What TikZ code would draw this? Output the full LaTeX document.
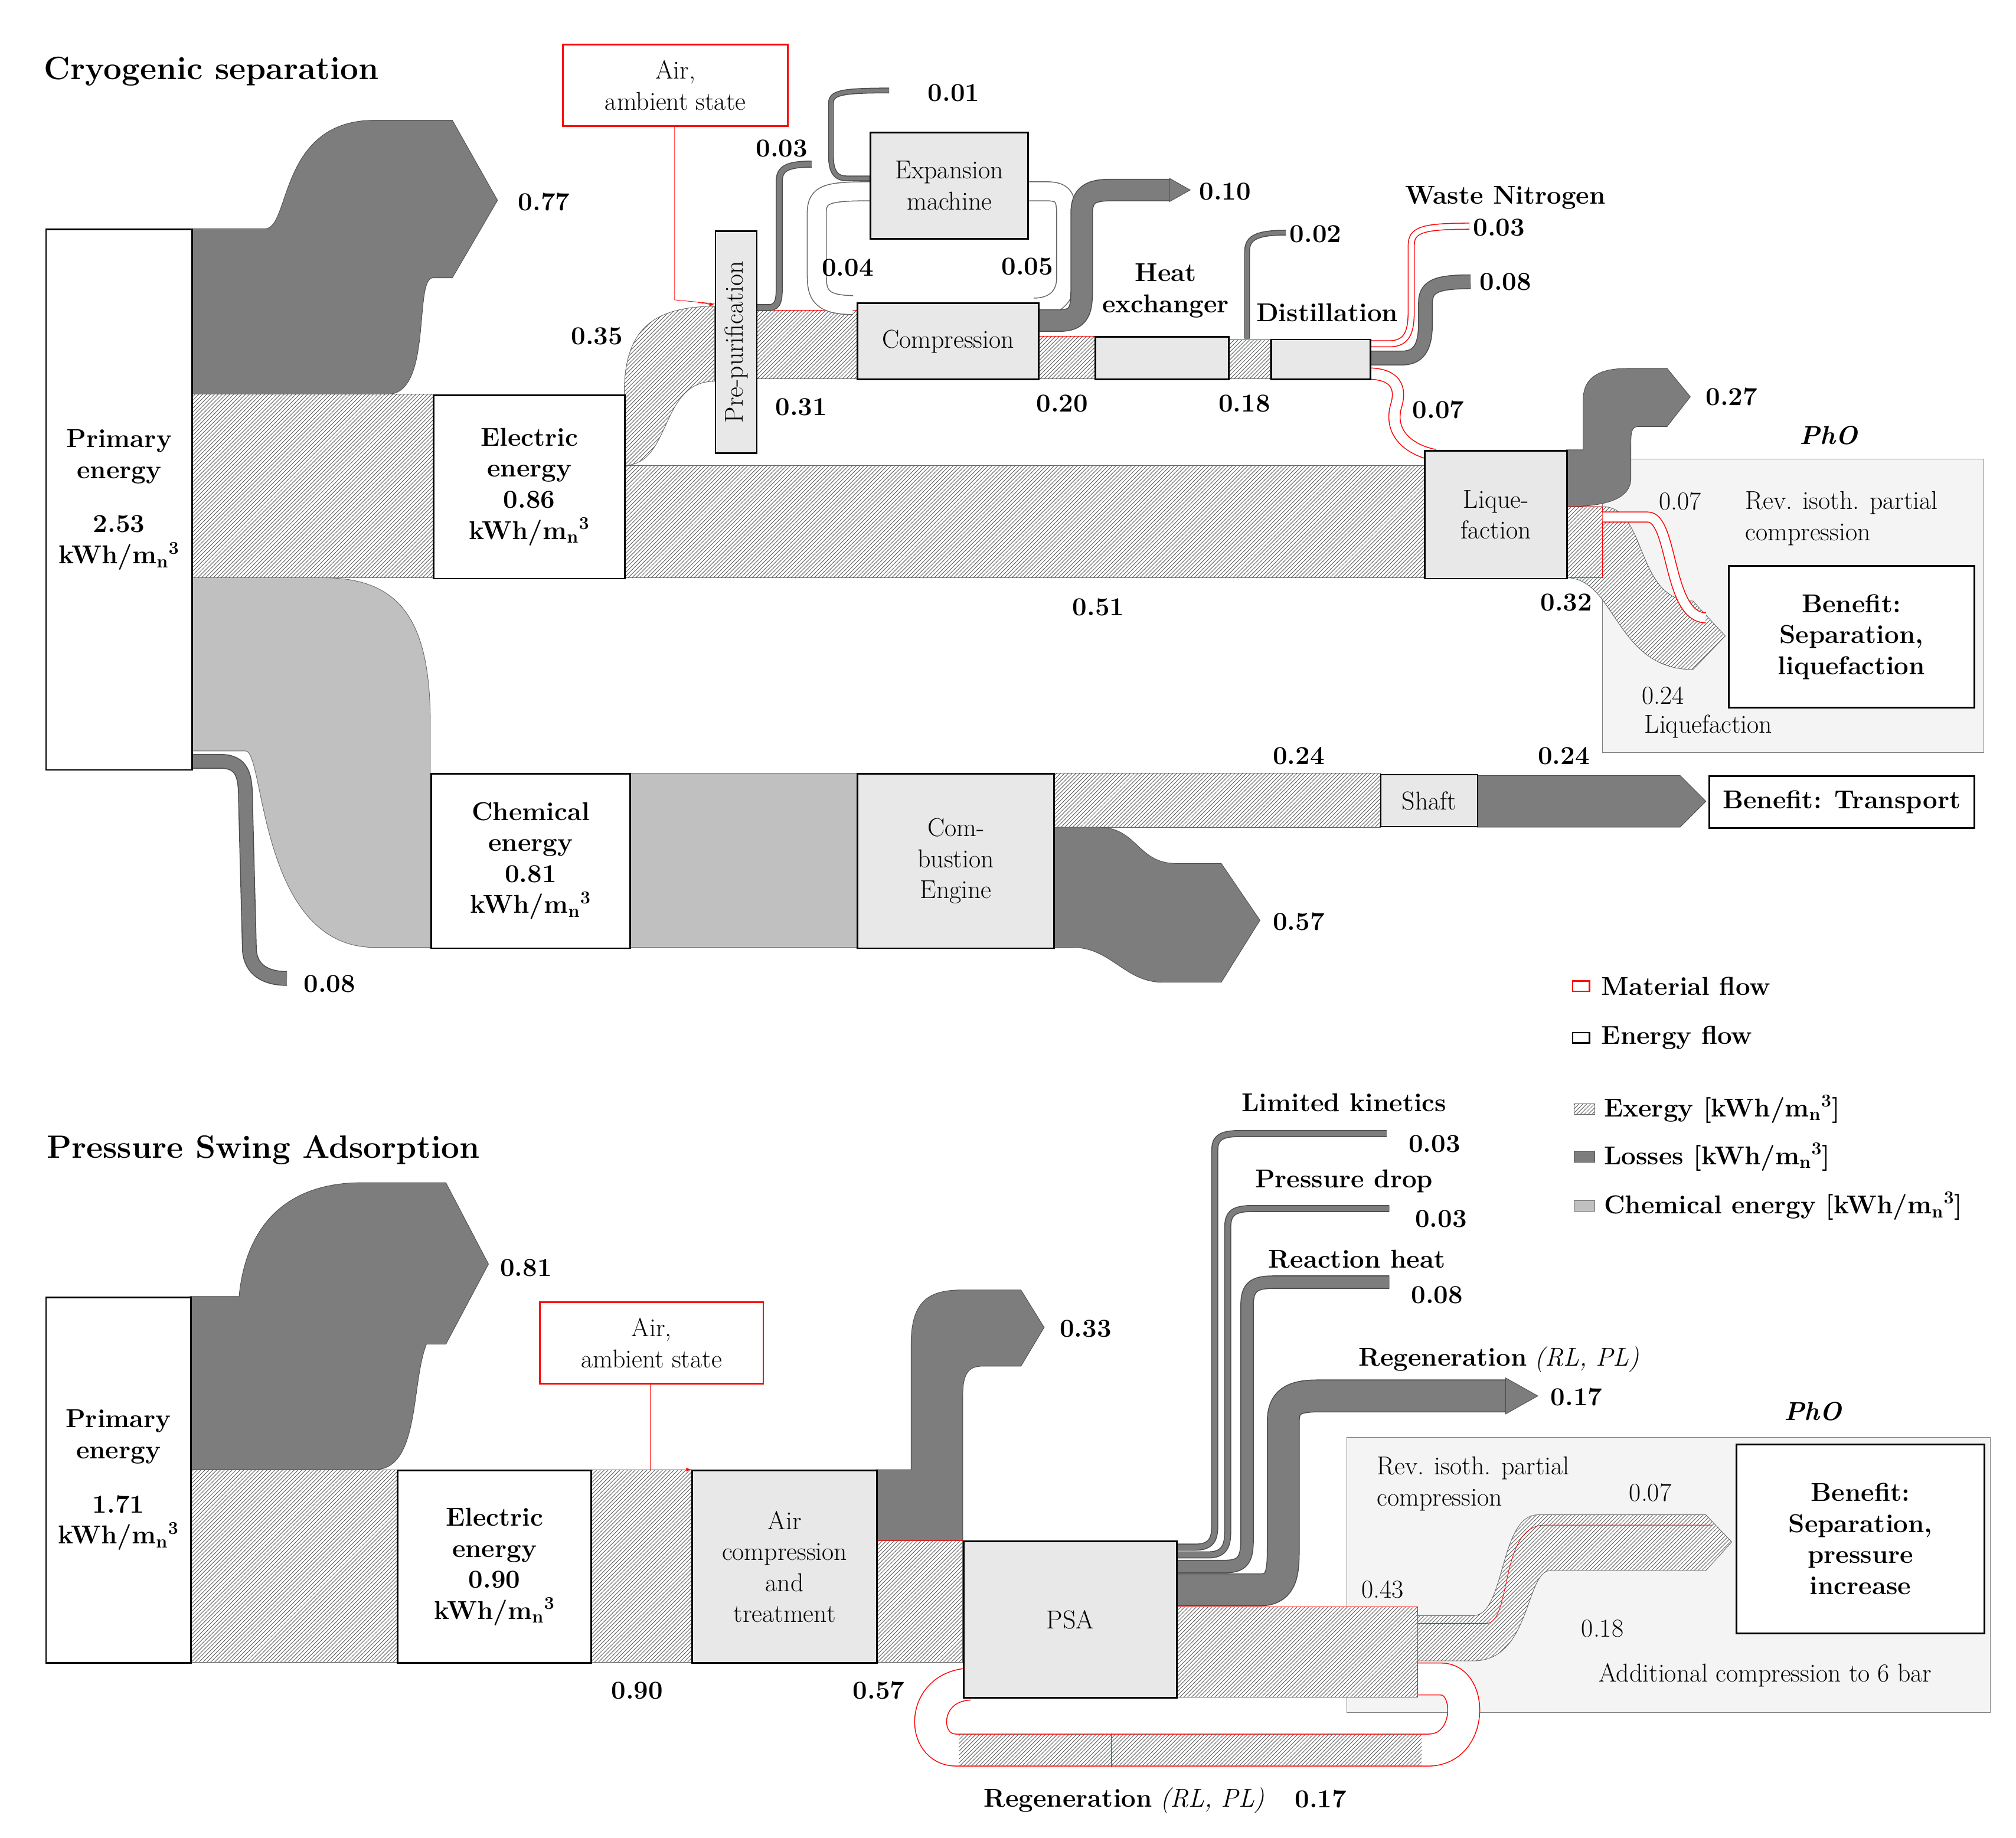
\documentclass[tikz,border=0pt]{standalone}
\usetikzlibrary{patterns}
\definecolor{lossgray}{RGB}{125,125,125}
\definecolor{chemgray}{RGB}{192,192,192}
\definecolor{boxgray}{RGB}{232,232,232}
\definecolor{phogray}{RGB}{244,244,244}
\newcommand{\mn}{m\textsubscript{n}\textsuperscript{3}}
\begin{document}
\begin{tikzpicture}[x=1pt,y=-1pt,
  every node/.style={font=\fontsize{20}{24}\selectfont, align=center, inner sep=1pt},
  hatch/.style={fill=white, postaction={pattern=north east lines, pattern color=black!65}, draw=black!60},
  loss/.style={fill=lossgray, draw=black!70},
  chem/.style={fill=chemgray, draw=black!60},
  lossline/.style={draw=black!70, line width=0.7pt, double=lossgray, double distance=#1},
  exline/.style={draw=black!60, line width=0.7pt, double=white, double distance=#1},
  matline/.style={draw=red, line width=0.7pt, double=white, double distance=#1},
  box/.style={draw, line width=1.3pt, fill=white},
  gbox/.style={draw, line width=1.3pt, fill=boxgray},
  rbox/.style={draw=red, line width=1.3pt, fill=white},
  bold/.style={font=\fontsize{20}{24}\selectfont\bfseries},
  num/.style={font=\fontsize{20}{24}\selectfont\bfseries}]
\path[use as bounding box, fill=white] (0,0) rectangle (1560,1422);

% ================= TOP =================
\node[anchor=west, font=\fontsize{25}{30}\selectfont\bfseries] (t1) at (33,55) {Cryogenic separation};

\fill[phogray, draw=black!50] (1240,355) rectangle (1535,582);

\path[loss] (148,177) -- (205,177) .. controls (225,177) and (215,93) .. (290,93) -- (350,93) -- (385,155) -- (350,215) -- (335,215) .. controls (320,215) and (335,305) .. (300,305) -- (148,305) -- cycle;
\path[chem] (148,447) -- (250,447) .. controls (310,447) and (333,480) .. (333,560) -- (333,733) -- (290,733) .. controls (200,733) and (205,581) .. (190,581) -- (148,581) -- cycle;
\draw[lossline=10] (148,589) -- (170,589) .. controls (188,589) and (190,600) .. (190,620) -- (193,735) .. controls (194,750) and (205,757) .. (222,757);
\path[hatch] (148,305) rectangle (335,447);
\path[hatch] (483,360) rectangle (1102,447);
\path[hatch] (483,305) .. controls (483,260) and (500,237) .. (553,237) -- (553,295) .. controls (510,295) and (520,360) .. (483,360) -- cycle;
\path[hatch] (585,240) rectangle (663,293);
\draw[red] (585,240) -- (663,240);
\path[hatch] (803,260) rectangle (847,293);
\path[hatch] (950,263) rectangle (983,293);
\draw[red] (803,260) -- (847,260) (950,263) -- (983,263);
\draw[exline=14] (660,236) .. controls (632,236) and (632,225) .. (632,210) -- (632,165) .. controls (632,150) and (640,148) .. (673,148);
\draw[exline=14] (795,148) -- (810,148) .. controls (825,148) and (825,155) .. (825,170) -- (825,215) .. controls (825,230) and (815,238) .. (800,238);
\draw[lossline=4] (585,238) -- (595,238) .. controls (603,238) and (603,230) .. (603,220) -- (603,140) .. controls (603,130) and (610,127) .. (628,127);
\draw[lossline=3] (673,138) -- (655,138) .. controls (645,138) and (643,130) .. (643,120) -- (643,80) .. controls (643,72) and (650,70) .. (688,70);
\draw[lossline=16] (803,248) -- (820,248) .. controls (835,248) and (837,240) .. (837,225) -- (837,165) .. controls (837,150) and (845,147) .. (860,147) -- (905,147);
\path[loss] (905,138) -- (921,147) -- (905,156) -- cycle;
\draw[lossline=3] (965,262) -- (965,195) .. controls (965,185) and (970,180) .. (995,180);
\draw[matline=4] (1060,266) -- (1075,266) .. controls (1090,266) and (1092,255) .. (1092,240) -- (1092,190) .. controls (1092,178) and (1100,175) .. (1137,175);
\draw[lossline=10] (1060,277) -- (1085,277) .. controls (1100,277) and (1103,265) .. (1103,250) -- (1103,235) .. controls (1103,222) and (1110,218) .. (1138,218);
\draw[matline=8] (1058,289) .. controls (1080,289) and (1085,300) .. (1080,315) .. controls (1075,335) and (1090,348) .. (1110,352);
\path[loss] (1212,348) -- (1225,348) -- (1225,310) .. controls (1225,290) and (1240,285) .. (1260,285) -- (1290,285) -- (1308,307) -- (1290,330) -- (1268,330) .. controls (1262,330) and (1262,335) .. (1262,345) -- (1262,370) .. controls (1262,385) and (1245,392) .. (1212,392) -- cycle;
\path[hatch] (1212,392) -- (1240,392) .. controls (1275,392) and (1265,465) .. (1310,465) -- (1335,492) -- (1310,518) .. controls (1250,518) and (1250,447) .. (1212,447) -- cycle;
\draw[red] (1212,392) -- (1240,392) -- (1240,447) -- (1212,447);
\draw[matline=7] (1240,400) -- (1275,400) .. controls (1295,400) and (1290,478) .. (1320,478);
\draw[red] (522,97) -- (522,232) -- (553,235);
\draw[red, -latex] (540,234) -- (553,236);
\path[chem] (487,598) rectangle (663,733);
\path[hatch] (815,598) rectangle (1068,640);
\path[loss] (1143,600) -- (1300,600) -- (1320,620) -- (1300,640) -- (1143,640) -- cycle;
\path[loss] (815,640) -- (850,640) .. controls (880,640) and (880,668) .. (910,668) -- (945,668) -- (975,712) -- (945,760) -- (900,760) .. controls (870,760) and (860,733) .. (830,733) -- (815,733) -- cycle;

\node[box, minimum width=113, minimum height=418, anchor=north west, bold] (pe1) at (35,177) {Primary\\energy\\[18pt]2.53\\kWh/\mn};
\node[box, minimum width=148, minimum height=142, anchor=north west, bold] (ee1) at (335,305) {Electric\\energy\\0.86\\kWh/\mn};
\node[box, minimum width=154, minimum height=135, anchor=north west, bold] (ce1) at (333,598) {Chemical\\energy\\0.81\\kWh/\mn};
\node[gbox, minimum width=152, minimum height=135, anchor=north west] (eng) at (663,598) {Com-\\bustion\\Engine};
\node[gbox, minimum width=75, minimum height=40, anchor=north west, line width=1pt] (shaft) at (1068,599) {Shaft};
\node[box, minimum width=205, minimum height=40, anchor=north west, bold] (bt) at (1322,600) {Benefit: Transport};
\node[rbox, minimum width=174, minimum height=63, anchor=north west] (air1) at (435,34) {Air,\\ambient state};
\node[gbox, minimum width=32, minimum height=172, anchor=north west] (pp) at (553,178) {};
\node[rotate=90] (ppt) at (pp.center) {Pre-purification};
\node[gbox, minimum width=140, minimum height=59, anchor=north west] (comp) at (663,234) {Compression};
\node[gbox, minimum width=122, minimum height=82, anchor=north west] (exp) at (673,102) {Expansion\\machine};
\node[gbox, minimum width=103, minimum height=33, anchor=north west] (hx) at (847,260) {};
\node[gbox, minimum width=77, minimum height=31, anchor=north west] (dist) at (983,262) {};
\node[gbox, minimum width=110, minimum height=99, anchor=north west] (liq) at (1102,348) {Lique-\\faction};
\node[box, minimum width=190, minimum height=110, anchor=north west, bold] (ben1) at (1337,437) {Benefit:\\Separation,\\liquefaction};

\node[num] (l077) at (421,156) {0.77};
\node[num] (l035) at (462,260) {0.35};
\node[num] (l031) at (620,315) {0.31};
\node[num] (l003a) at (605,115) {0.03};
\node[num] (l001) at (738,72) {0.01};
\node[num] (l004) at (656,207) {0.04};
\node[num] (l005) at (795,206) {0.05};
\node[num] (l010) at (948,148) {0.10};
\node[num] (lhx) at (902,225) {Heat\\exchanger};
\node[num] (ldist) at (1027,242) {Distillation};
\node[num] (l002) at (1018,181) {0.02};
\node[num] (lwn) at (1165,153) {Waste Nitrogen};
\node[num] (l003b) at (1160,176) {0.03};
\node[num] (l008b) at (1165,218) {0.08};
\node[num] (l020) at (822,312) {0.20};
\node[num] (l018) at (963,312) {0.18};
\node[num] (l007) at (1113,317) {0.07};
\node[num] (l027) at (1340,307) {0.27};
\node[font=\fontsize{20}{24}\selectfont\bfseries\itshape] (pho1) at (1415,337) {PhO};
\node (l007b) at (1300,388) {0.07};
\node[align=left] (lrev1) at (1425,401) {Rev. isoth. partial\\compression};
\node[num] (l032) at (1212,466) {0.32};
\node[num] (l051) at (850,470) {0.51};
\node (l024c) at (1287,538) {0.24};
\node (lliq) at (1322,562) {Liquefaction};
\node[num] (l024a) at (1005,585) {0.24};
\node[num] (l024b) at (1210,585) {0.24};
\node[num] (l057) at (1005,713) {0.57};
\node[num] (l008a) at (255,761) {0.08};

\draw[red, line width=1.2pt, fill=white] (1217,759) rectangle (1230,767);
\node[anchor=west, num] (lg1) at (1238,763) {Material flow};
\draw[black, line width=1.2pt, fill=white] (1217,799) rectangle (1230,807);
\node[anchor=west, num] (lg2) at (1238,803) {Energy flow};
\path[hatch] (1218,854) rectangle (1234,862);
\node[anchor=west, num] (lg3) at (1240,858) {Exergy [kWh/\mn]};
\path[loss] (1218,891) rectangle (1234,899);
\node[anchor=west, num] (lg4) at (1240,895) {Losses [kWh/\mn]};
\path[chem] (1218,929) rectangle (1234,937);
\node[anchor=west, num] (lg5) at (1240,933) {Chemical energy [kWh/\mn]};

% ================= BOTTOM =================
\node[anchor=west, font=\fontsize{25}{30}\selectfont\bfseries] (t2) at (35,890) {Pressure Swing Adsorption};
\fill[phogray, draw=black!50] (1042,1112) rectangle (1540,1325);

\path[loss] (147,1003) -- (185,1003) .. controls (190,950) and (220,915) .. (280,915) -- (345,915) -- (378,978) -- (345,1040) -- (330,1040) .. controls (318,1070) and (325,1137) .. (290,1137) -- (147,1137) -- cycle;
\path[hatch] (147,1137) rectangle (307,1286);
\path[hatch] (457,1137) rectangle (535,1286);
\path[loss] (678,1137) -- (705,1137) -- (705,1040) .. controls (705,1005) and (720,998) .. (745,998) -- (790,998) -- (808,1027) -- (790,1057) -- (760,1057) .. controls (748,1057) and (745,1065) .. (745,1080) -- (745,1192) -- (678,1192) -- cycle;
\path[hatch] (678,1192) rectangle (745,1286);
\draw[red] (678,1192) -- (745,1192);
\draw[red] (503,1070) -- (503,1137) -- (535,1137);
\draw[red, -latex] (522,1137) -- (535,1137);
\draw[matline=24] (1097,1299) -- (1115,1299) .. controls (1140,1299) and (1140,1354) .. (1105,1354) -- (740,1354) .. controls (712,1354) and (712,1305) .. (750,1303);
\path[pattern=north east lines, pattern color=black!65] (1100,1342) rectangle (742,1366);
\draw[red] (860,1341) -- (860,1367);
\draw[lossline=4] (905,1197) -- (925,1197) .. controls (938,1197) and (940,1190) .. (940,1180) -- (940,890) .. controls (940,880) and (945,877) .. (960,877) -- (1073,877);
\draw[lossline=4] (905,1203) -- (935,1203) .. controls (948,1203) and (950,1195) .. (950,1185) -- (950,950) .. controls (950,938) and (955,935) .. (970,935) -- (1075,935);
\draw[lossline=9] (905,1212) -- (948,1212) .. controls (963,1212) and (965,1205) .. (965,1190) -- (965,1010) .. controls (965,996) and (970,992) .. (985,992) -- (1075,992);
\draw[lossline=24] (905,1230) -- (975,1230) .. controls (993,1230) and (993,1215) .. (993,1195) -- (993,1100) .. controls (993,1085) and (1000,1080) .. (1020,1080) -- (1165,1080);
\path[loss] (1165,1066) -- (1190,1080) -- (1165,1094) -- cycle;
\path[hatch] (910,1243) rectangle (1097,1313);
\draw[red] (910,1243) -- (1097,1243) -- (1097,1313);
\path[hatch] (1097,1250) -- (1140,1250) .. controls (1165,1250) and (1160,1172) .. (1190,1172) -- (1320,1172) -- (1340,1193) -- (1320,1215) -- (1200,1215) .. controls (1180,1215) and (1185,1285) .. (1140,1285) -- (1097,1285) -- cycle;
\draw[red] (1097,1256) -- (1150,1256) .. controls (1170,1256) and (1160,1180) .. (1195,1180) -- (1325,1180);

\node[box, minimum width=112, minimum height=283, anchor=north west, bold] (pe2) at (35,1003) {Primary\\energy\\[18pt]1.71\\kWh/\mn};
\node[box, minimum width=150, minimum height=149, anchor=north west, bold] (ee2) at (307,1137) {Electric\\energy\\0.90\\kWh/\mn};
\node[rbox, minimum width=173, minimum height=63, anchor=north west] (air2) at (417,1007) {Air,\\ambient state};
\node[gbox, minimum width=143, minimum height=149, anchor=north west] (act) at (535,1137) {Air\\compression\\and\\treatment};
\node[gbox, minimum width=165, minimum height=121, anchor=north west] (psa) at (745,1192) {PSA};
\node[box, minimum width=192, minimum height=146, anchor=north west, bold] (ben2) at (1343,1117) {Benefit:\\Separation,\\pressure\\increase};

\node[num] (m081) at (407,981) {0.81};
\node[num] (m033) at (840,1028) {0.33};
\node[num] (m090) at (493,1308) {0.90};
\node[num] (m057) at (680,1308) {0.57};
\node[num] (mlk) at (1040,853) {Limited kinetics};
\node[num] (m003a) at (1110,885) {0.03};
\node[num] (mpd) at (1040,914) {Pressure drop};
\node[num] (m003b) at (1115,943) {0.03};
\node[num] (mrh) at (1050,974) {Reaction heat};
\node[num] (m008) at (1112,1002) {0.08};
\node (mreg) at (1160,1052) {\textbf{Regeneration} \textit{(RL, PL)}};
\node[num] (m017) at (1220,1081) {0.17};
\node[font=\fontsize{20}{24}\selectfont\bfseries\itshape] (pho2) at (1403,1092) {PhO};
\node[align=left] (mrev) at (1140,1148) {Rev. isoth. partial\\compression};
\node (m007) at (1277,1155) {0.07};
\node (m043) at (1070,1230) {0.43};
\node (m018) at (1240,1260) {0.18};
\node (madd) at (1366,1296) {Additional compression to 6 bar};
\node (mreg2) at (870,1393) {\textbf{Regeneration} \textit{(RL, PL)}};
\node[num] (m017b) at (1022,1392) {0.17};
\end{tikzpicture}
\end{document}
